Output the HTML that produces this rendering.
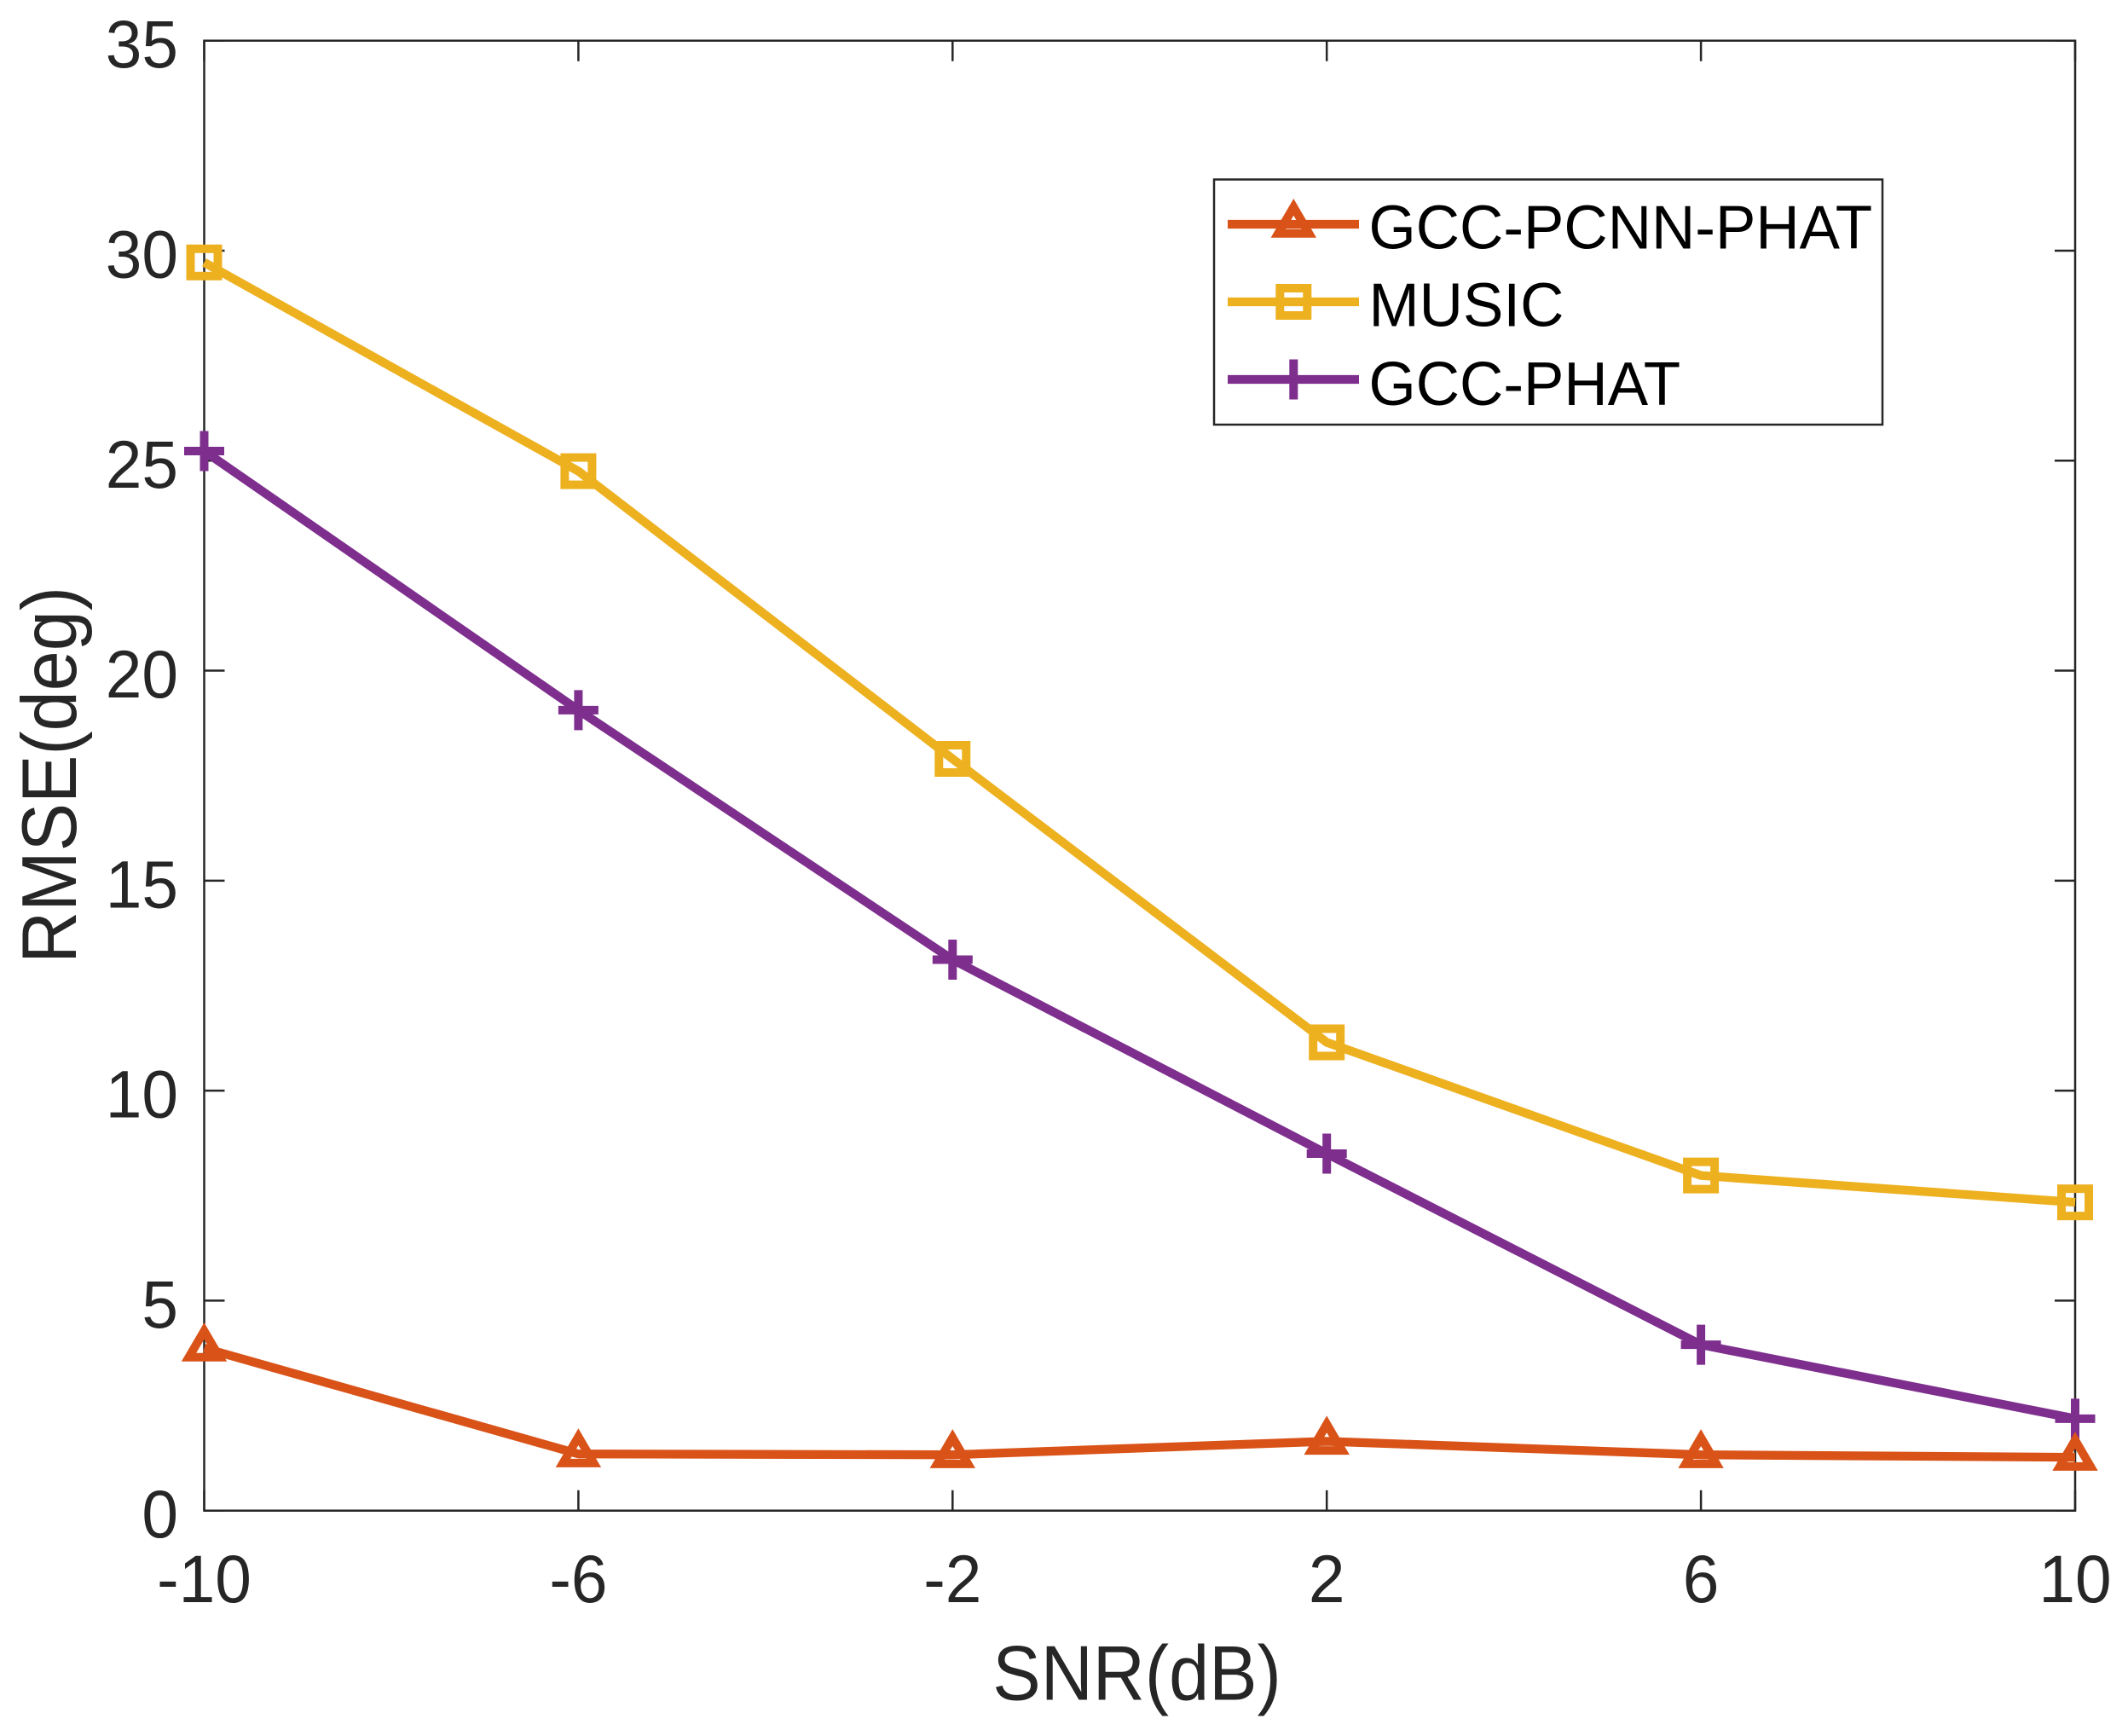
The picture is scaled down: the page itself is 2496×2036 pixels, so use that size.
<!DOCTYPE html>
<html lang="en">
<head>
<meta charset="utf-8">
<title>RMSE vs SNR</title>
<style>
html,body{margin:0;padding:0;background:#fff;width:2496px;height:2036px;overflow:hidden}
svg{display:block}
text{font-family:"Liberation Sans",Arial,sans-serif}
</style>
</head>
<body>
<svg id="chart" xmlns="http://www.w3.org/2000/svg" width="2496" height="2036" viewBox="0 0 2496 2036">
  <rect x="0" y="0" width="2496" height="2036" fill="#fff"/>
  <g id="axes"></g>
  <g id="series"></g>
  <text transform="translate(1333.5 1993.5) scale(0.93 1)" font-size="91" fill="#262626" text-anchor="middle">SNR(dB)</text>
  <text transform="translate(89 909) rotate(-90) scale(0.93 1)" font-size="91" fill="#262626" text-anchor="middle">RMSE(deg)</text>
  <g>
    <rect x="1424" y="210.5" width="784" height="287.5" fill="#fff" stroke="#262626" stroke-width="2.5"/>
    <g>
      <line x1="1440" x2="1594" y1="263" y2="263" stroke="#D95319" stroke-width="10.3"/>
      <polygon points="1499.3,273.7 1517.3,242.9 1535.3,273.7" fill="none" stroke="#D95319" stroke-width="10" stroke-miterlimit="10"/>
      <text transform="translate(1605.5 291.7) scale(0.98 1)" font-size="72.5" fill="#000">GCC-PCNN-PHAT</text>
    </g>
    <g>
      <line x1="1440" x2="1594" y1="354" y2="354" stroke="#EDB120" stroke-width="10.3"/>
      <rect x="1501.3" y="338" width="32" height="32" fill="none" stroke="#EDB120" stroke-width="10"/>
      <text transform="translate(1605.5 382.7) scale(0.98 1)" font-size="72.5" fill="#000">MUSIC</text>
    </g>
    <g>
      <line x1="1440" x2="1594" y1="445" y2="445" stroke="#7E2F8E" stroke-width="10.3"/>
      <path d="M1493.8 445H1540.8M1517.3 421.5V468.5" fill="none" stroke="#7E2F8E" stroke-width="10"/>
      <text transform="translate(1605.5 475) scale(0.98 1)" font-size="72.5" fill="#000">GCC-PHAT</text>
    </g>
  </g>
</svg>
<script>
// Chart data
const snrCategories = [-10, -6, -2, 2, 6, 10];
const xTickLabels = ["-10", "-6", "-2", "2", "6", "10"];
const yTickValues = [0, 5, 10, 15, 20, 25, 30, 35];
const musicValues = [29.72, 24.75, 17.9, 11.15, 7.98, 7.34];
const gccPhatValues = [25.23, 19.06, 13.12, 8.5, 3.95, 2.19];
const gccPcnnPhatValues = [3.87, 1.35, 1.33, 1.65, 1.33, 1.27];

const NS = "http://www.w3.org/2000/svg";
const plotLeft = 239.5, plotRight = 2434, plotTop = 47.7, plotBottom = 1771.7;
const xMin = -10, xMax = 10, yMin = 0, yMax = 35;
const inkColor = "#262626";

function xScale(v) { return plotLeft + (v - xMin) / (xMax - xMin) * (plotRight - plotLeft); }
function yScale(v) { return plotBottom - (v - yMin) / (yMax - yMin) * (plotBottom - plotTop); }

function make(tag, attrs) {
  const el = document.createElementNS(NS, tag);
  for (const k in attrs) el.setAttribute(k, attrs[k]);
  return el;
}

const axes = document.getElementById("axes");
const seriesGroup = document.getElementById("series");

// Plot frame
const frame = make("rect", {
  x: plotLeft, y: plotTop, width: plotRight - plotLeft, height: plotBottom - plotTop,
  fill: "none", stroke: inkColor, "stroke-width": 2.5
});


axes.appendChild(frame);

const tickLen = 24;

// X ticks (bottom and top) and labels
snrCategories.forEach(function (c, i) {
  const x = xScale(c);
  const tick = make("path", {
    d: "M" + x + " " + plotBottom + "V" + (plotBottom - tickLen) + "M" + x + " " + plotTop + "V" + (plotTop + tickLen),
    stroke: inkColor, "stroke-width": 2.5, fill: "none"
  });
  
  
  axes.appendChild(tick);

  const label = make("text", {
    transform: "translate(" + x + " 1879) scale(0.97 1)",
    "font-size": 79, fill: inkColor, "text-anchor": "middle"
  });
  
  
  label.textContent = xTickLabels[i];
  axes.appendChild(label);
});

// Y ticks (left and right) and labels
yTickValues.forEach(function (v) {
  const y = yScale(v);
  const tick = make("path", {
    d: "M" + plotLeft + " " + y + "H" + (plotLeft + tickLen) + "M" + plotRight + " " + y + "H" + (plotRight - tickLen),
    stroke: inkColor, "stroke-width": 2.5, fill: "none"
  });
  
  
  axes.appendChild(tick);

  const label = make("text", {
    transform: "translate(209 " + (y + 31.5) + ") scale(0.97 1)",
    "font-size": 79, fill: inkColor, "text-anchor": "end"
  });
  
  
  label.textContent = String(v);
  axes.appendChild(label);
});

// Marker drawing
function drawSquare(g, x, y, color) {
  const m = make("rect", {
    x: x - 16, y: y - 16, width: 32, height: 32,
    fill: "none", stroke: color, "stroke-width": 10
  });
  
  
  g.appendChild(m);
}
function drawPlus(g, x, y, color) {
  const m = make("path", {
    d: "M" + (x - 23.5) + " " + y + "H" + (x + 23.5) + "M" + x + " " + (y - 23.5) + "V" + (y + 23.5),
    fill: "none", stroke: color, "stroke-width": 10
  });
  
  
  g.appendChild(m);
}
function drawTriangle(g, x, y, color) {
  const m = make("polygon", {
    points: (x - 18) + "," + (y + 10.7) + " " + x + "," + (y - 20.1) + " " + (x + 18) + "," + (y + 10.7),
    fill: "none", stroke: color, "stroke-width": 10, "stroke-miterlimit": 10
  });
  
  
  g.appendChild(m);
}

function drawSeries(name, values, color, marker) {
  const g = make("g", {});
  
  
  const pts = values.map(function (v, i) { return xScale(snrCategories[i]) + "," + yScale(v); }).join(" ");
  const line = make("polyline", {
    points: pts, fill: "none", stroke: color, "stroke-width": 10.3, "stroke-linejoin": "round"
  });
  
  
  g.appendChild(line);
  values.forEach(function (v, i) {
    marker(g, xScale(snrCategories[i]), yScale(v), color);
  });
  seriesGroup.appendChild(g);
}

drawSeries("series-music", musicValues, "#EDB120", drawSquare);
drawSeries("series-gcc-phat", gccPhatValues, "#7E2F8E", drawPlus);
drawSeries("series-gcc-pcnn-phat", gccPcnnPhatValues, "#D95319", drawTriangle);
</script>
</body>
</html>
